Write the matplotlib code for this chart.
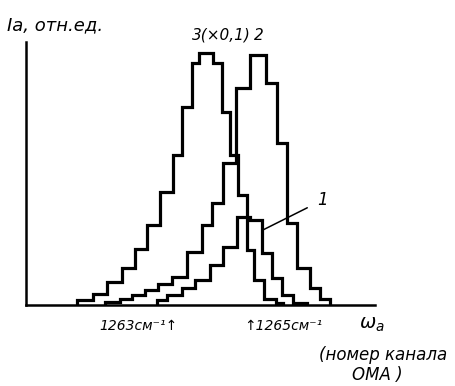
import matplotlib
matplotlib.use('Agg')
import matplotlib.pyplot as plt

# spectra: channel edges (cm^-1) and step heights (rel. units)
edges_3 = [1260.41, 1260.84, 1261.22, 1261.62, 1261.97, 1262.30, 1262.65, 1263.00, 1263.24, 1263.51,
           1263.70, 1264.08, 1264.32, 1264.54, 1264.76, 1265.00, 1265.19, 1265.46, 1265.78, 1265.97]
level_3 = [2, 4.4, 9.2, 14.8, 22.4, 32, 45.2, 60, 79.2, 96.8, 100.8, 96.8, 77.2, 60, 44, 22, 10, 2.4, 0.8]

edges_2 = [1261.16, 1261.57, 1261.89, 1262.24, 1262.59, 1262.97, 1263.38, 1263.78, 1264.05, 1264.35,
           1264.70, 1265.08, 1265.51, 1265.81, 1266.08, 1266.35, 1266.70, 1266.97, 1267.24]
level_2 = [1.2, 2.4, 4, 6, 8.4, 11.2, 21.2, 32, 40.8, 56.8, 86.8, 100, 88.8, 64.8, 32.8, 14.8, 6.8, 2.4]

edges_1 = [1262.57, 1262.84, 1263.24, 1263.59, 1264.00, 1264.35, 1264.73, 1265.08, 1265.41, 1265.68,
           1265.95, 1266.24, 1266.62]
level_1 = [2, 4, 6.8, 10, 16, 23.2, 35.2, 34, 20.8, 10.8, 4, 0.8]

marks = [1263, 1265]

plt.rcParams['font.family'] = ['DejaVu Sans']
plt.rcParams['mathtext.fontset'] = 'dejavusans'

fig = plt.figure(figsize=(4.55, 3.86), dpi=100)
ax = fig.add_axes([26 / 455, 1 - 305 / 386, (375 - 26) / 455, (305 - 42) / 386])

for e, v in [(edges_3, level_3), (edges_2, level_2), (edges_1, level_1)]:
    ax.stairs(v, e, baseline=0, color='black', lw=2.3)

ax.set_xlim(1259.03, 1268.46)
ax.set_ylim(0, 105.2)
for s in ['top', 'right']:
    ax.spines[s].set_visible(False)
for s in ['left', 'bottom']:
    ax.spines[s].set_linewidth(1.8)
ax.set_xticks([])
ax.set_yticks([])

it = dict(style='italic', color='black', clip_on=False)
ax.text(marks[0] + 0.12, -8.5, '1263см⁻¹↑', ha='right', va='center', fontsize=10, **it)
ax.text(marks[1] - 0.08, -8.5, '↑1265см⁻¹', ha='left', va='center', fontsize=10, **it)
ax.text(1264.32, 108, '3(×0,1)', ha='center', va='center', fontsize=11, **it)
ax.text(1265.32, 108, '2', ha='center', va='center', fontsize=11, **it)
ax.annotate('1', xy=(1265.43, 30), xytext=(1267.05, 42), ha='center', va='center',
            fontsize=12, style='italic',
            arrowprops=dict(arrowstyle='-', lw=1.1, color='black', shrinkA=6, shrinkB=0))

fig.text(7 / 455, 1 - 25 / 386, 'Ia, отн.ед.', ha='left', va='center', fontsize=13, style='italic')
fig.text(372 / 455, 1 - 325 / 386, r'$\omega_a$', ha='center', va='center', fontsize=14)
fig.text(383 / 455, 1 - 355 / 386, '(номер канала', ha='center', va='center', fontsize=12, style='italic')
fig.text(377 / 455, 1 - 375 / 386, 'ОМА )', ha='center', va='center', fontsize=12, style='italic')

fig.savefig('out.png', dpi=100)
